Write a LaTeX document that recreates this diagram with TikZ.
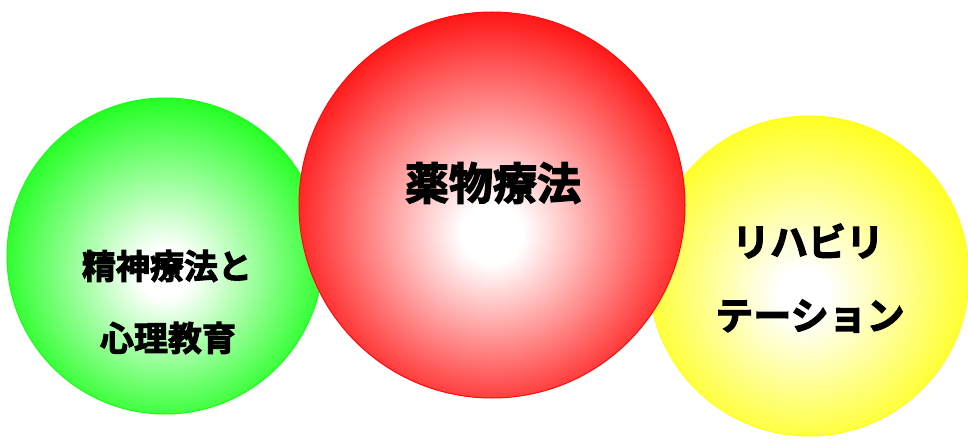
\documentclass[tikz,border=0pt]{standalone}
\usepackage{fontspec}
\newfontfamily\cjk{Noto Sans CJK JP}[BoldFont={Noto Sans CJK JP Bold},BoldFeatures={FakeBold=3}]
\definecolor{ballgreen}{RGB}{20,255,20}
\definecolor{ballred}{RGB}{255,10,10}
\definecolor{ballyellow}{RGB}{255,255,20}
\pgfdeclareradialshading{greenball}{\pgfpoint{0bp}{-3bp}}{color(0bp)=(white); color(4bp)=(white); color(28bp)=(ballgreen); color(50bp)=(ballgreen)}
\pgfdeclareradialshading{redball}{\pgfpoint{0bp}{-4bp}}{color(0bp)=(white); color(4bp)=(white); color(28bp)=(ballred); color(50bp)=(ballred)}
\pgfdeclareradialshading{yellowball}{\pgfpoint{-1bp}{-3bp}}{color(0bp)=(white); color(4bp)=(white); color(28bp)=(ballyellow); color(50bp)=(ballyellow)}
\tikzset{
  ball/.style={circle, inner sep=0pt, outer sep=0pt, line width=1pt},
  label/.style={font=\cjk\bfseries, text=black, inner sep=0pt, align=center}
}
\begin{document}
\begin{tikzpicture}[x=1pt,y=-1pt]
\useasboundingbox (0,0) rectangle (968,441);
\node[ball, minimum size=316pt, shading=greenball, draw=ballgreen] (green) at (165,256) {};
\node[ball, minimum size=320pt, shading=yellowball, draw=ballyellow] (yellow) at (809,276) {};
\node[ball, minimum size=386pt, shading=redball, draw=ballred] (red) at (492,205) {};
\node[label, font=\cjk\bfseries\fontsize{44}{50}\selectfont] (t1) at (493,183) {薬物療法};
\node[label, font=\cjk\bfseries\fontsize{34}{40}\selectfont] (t2) at (167,266) {精神療法と};
\node[label, font=\cjk\bfseries\fontsize{34}{40}\selectfont] (t3) at (168,338) {心理教育};
\node[label, font=\cjk\bfseries\fontsize{38}{44}\selectfont] (t4) at (808,241) {リハビリ};
\node[label, font=\cjk\bfseries\fontsize{38}{44}\selectfont] (t5) at (810,316) {テーション};
\end{tikzpicture}
\end{document}
